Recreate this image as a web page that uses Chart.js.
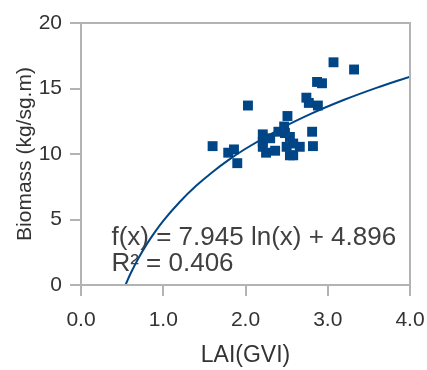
<!DOCTYPE html>
<html>
<head>
<meta charset="utf-8">
<script src="https://cdn.jsdelivr.net/npm/chart.js@4"></script>
<style>
  html, body { margin: 0; padding: 0; background: #fff; }
  #wrap { width: 427px; height: 370px; }
</style>
</head>
<body>
<div id="wrap"><canvas id="chart" width="427" height="370"></canvas></div>
<script>
// scatter points (LAI, biomass)
const laiValues = [1.60, 1.79, 1.86, 1.90, 2.03, 2.21, 2.21, 2.21, 2.25, 2.30, 2.36, 2.40,
    2.47, 2.51, 2.48, 2.54, 2.50, 2.54, 2.58, 2.66, 2.58, 2.74, 2.77, 2.88, 2.81, 2.82,
    2.87, 2.93, 3.07, 3.32];
const biomassValues = [10.6, 10.1, 10.35, 9.3, 13.7, 11.5, 10.9, 10.55, 10.1, 11.2, 10.25, 11.7,
    12.1, 12.9, 11.6, 11.3, 10.55, 9.9, 9.9, 10.55, 10.8, 14.3, 13.9, 13.7, 11.7, 10.6,
    15.5, 15.4, 17.0, 16.45];

// logarithmic trend line, f(x) = 7.945 ln(x) + 4.896
const trendX = [0.54, 0.6, 0.7, 0.8, 0.9, 1.0, 1.2, 1.4, 1.6, 1.8, 2.0, 2.4, 2.8, 3.2, 3.6, 4.0];
const trendY = [0.0, 0.84, 2.06, 3.12, 4.06, 4.90, 6.34, 7.57, 8.63, 9.57, 10.40, 11.85, 13.08, 14.14, 15.07, 15.91];

const xTicks = [0, 1, 2, 3, 4];
const yTicks = [0, 5, 10, 15, 20];
const equationText = 'f(x) = 7.945 ln(x) + 4.896';
const rSquaredText = 'R² = 0.406';

const BLUE = '#004586';
const AXIS_GRAY = '#b3b3b3';
const TEXT = '#333333';
const FONT = 'Liberation Sans, Arial, sans-serif';

const frame = {
    id: 'frame',
    afterDraw(chart) {
        const { ctx, chartArea: a } = chart;
        ctx.save();
        ctx.strokeStyle = AXIS_GRAY;
        ctx.lineWidth = 2;
        ctx.strokeRect(a.left, a.top, a.right - a.left, a.bottom - a.top);
        ctx.restore();
    }
};

const equation = {
    id: 'equation',
    afterDatasetsDraw(chart) {
        const { ctx, scales } = chart;
        ctx.save();
        ctx.fillStyle = '#404040';
        ctx.font = '26px ' + FONT;
        ctx.textBaseline = 'middle';
        ctx.fillText(equationText, scales.x.getPixelForValue(0.37), scales.y.getPixelForValue(3.63));
        ctx.fillText(rSquaredText, scales.x.getPixelForValue(0.37), scales.y.getPixelForValue(1.65));
        ctx.restore();
    }
};

const ctx = document.getElementById('chart').getContext('2d');
new Chart(ctx, {
    type: 'scatter',
    data: {
        datasets: [{
            label: 'Biomass',
            data: laiValues.map((x, i) => ({ x: x, y: biomassValues[i] })),
            pointStyle: 'rect',
            pointRadius: 7,
            backgroundColor: BLUE,
            borderColor: BLUE,
            borderWidth: 0,
            order: 1
        }, {
            label: 'Trend',
            type: 'line',
            data: trendX.map((x, i) => ({ x: x, y: trendY[i] })),
            borderColor: BLUE,
            borderWidth: 2,
            pointRadius: 0,
            fill: false,
            cubicInterpolationMode: 'monotone',
            order: 2
        }]
    },
    options: {
        responsive: false,
        animation: false,
        layout: { padding: { top: 23, right: 17, left: 0, bottom: 0 } },
        plugins: {
            legend: { display: false },
            tooltip: { enabled: false }
        },
        scales: {
            x: {
                type: 'linear',
                min: 0,
                max: 4,
                afterBuildTicks: s => { s.ticks = xTicks.map(v => ({ value: v })); },
                afterFit: s => {
                    s.height = 85;
                    s.paddingLeft = 0;
                    s.paddingRight = 0;
                },
                grid: { drawOnChartArea: false, drawTicks: true, tickLength: 11, color: AXIS_GRAY, lineWidth: 2 },
                border: { display: false },
                ticks: {
                    color: TEXT,
                    font: { family: FONT, size: 21 },
                    padding: 12,
                    callback: v => v.toFixed(1)
                },
                title: {
                    display: true,
                    text: 'LAI(GVI)',
                    color: TEXT,
                    font: { family: FONT, size: 23 },
                    padding: { top: 1, bottom: 1 }
                }
            },
            y: {
                min: 0,
                max: 20,
                afterBuildTicks: s => { s.ticks = yTicks.map(v => ({ value: v })); },
                afterFit: s => {
                    s.width = 81;
                    s.paddingTop = 0;
                    s.paddingBottom = 0;
                },
                grid: { drawOnChartArea: false, drawTicks: true, tickLength: 11, color: AXIS_GRAY, lineWidth: 2 },
                border: { display: false },
                ticks: {
                    color: TEXT,
                    font: { family: FONT, size: 21 },
                    padding: 8
                },
                title: {
                    display: true,
                    text: 'Biomass (kg/sg.m)',
                    color: TEXT,
                    font: { family: FONT, size: 21 },
                    padding: { top: 13, bottom: 0 }
                }
            }
        }
    },
    plugins: [frame, equation]
});
</script>
</body>
</html>
